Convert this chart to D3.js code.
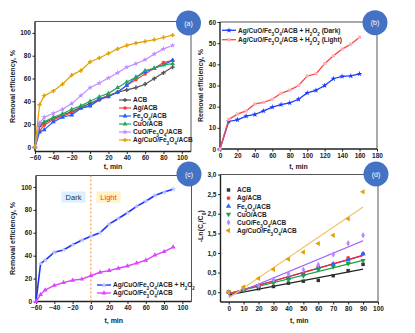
<!DOCTYPE html>
<html>
<head>
<meta charset="utf-8">
<script src="https://cdn.jsdelivr.net/npm/d3@7"></script>
<style>
  body { margin: 0; background: #fff; }
  svg { font-family: "Liberation Sans", Arial, sans-serif; font-weight: bold; }
</style>
</head>
<body>
<svg id="chart"></svg>
<script>
const width = 415;
const height = 333;

// ---- data (a) ----
const tA = [-60, -55, -50, -40, -30, -20, -10, 0, 10, 20, 30, 40, 50, 60, 70, 80, 90];
const namesA = ["ACB", "Ag/ACB", "Fe_3O_4/ACB", "CuO/ACB", "CuO/Fe_3O_4/ACB", "Ag/CuO/Fe_3O_4/ACB"];
const acbA = [0, 18, 21, 25, 28, 31, 35, 38, 42, 45, 48, 50, 52, 55, 60, 65, 70];
const agA = [0, 14, 19, 24, 27, 30, 34, 36, 41, 45, 48, 54, 59, 64, 69, 74, 76];
const feA = [0, 13, 15, 22, 26, 28, 34, 36, 42, 44, 48, 54, 61, 66, 69, 72, 76];
const cuoA = [0, 20, 22, 26, 29, 33, 36, 40, 44, 47, 52, 57, 61, 67, 69, 72, 73];
const cufeA = [0, 21, 26, 29.5, 33, 38, 45, 52, 56, 60.5, 65, 70, 73, 76.5, 81.5, 86, 89];
const agcufeA = [0, 37, 45, 49, 55, 63, 67, 74.5, 78, 82, 86, 89, 91, 92.5, 94, 96, 98];

// ---- data (b) ----
const tB = [0, 10, 20, 30, 40, 50, 60, 70, 80, 90, 100, 110, 120, 130, 140, 150, 160];
const namesB = ["Ag/CuO/Fe_3O_4/ACB + H_2O_2 (Dark)", "Ag/CuO/Fe_3O_4/ACB + H_2O_2 (Light)"];
const darkB = [0, 13, 13.8, 15.5, 16.3, 18, 19.8, 21, 21.8, 23.5, 26.5, 27.7, 30, 33.2, 34.3, 34.5, 35.5];
const lightB = [0, 14, 16.5, 18, 21.3, 22, 23.5, 26.3, 27.8, 30, 34.5, 35.5, 40.3, 44, 47.2, 49.5, 52.8];

// ---- data (c) ----
const tC = [-60, -55, -50, -40, -30, -20, -10, 0, 10, 20, 30, 40, 50, 60, 70, 80, 90];
const namesC = ["Ag/CuO/Fe_3O_4/ACB + H_2O_2", "Ag/CuO/Fe_3O_4/ACB"];
const withH2O2C = [0, 33, 36, 43, 45, 49.5, 53.5, 57, 60, 67.5, 72.5, 77.5, 83, 87.5, 92.5, 95.5, 98];
const withoutC = [0, 6, 10, 14, 16.5, 18.5, 19.5, 22.5, 25.5, 27, 29, 31, 33.5, 36, 40.5, 43.5, 47.5];

// ---- data (d) ----
const tD = [0, 10, 20, 30, 40, 50, 60, 70, 80, 90];
const acbD = [0, 0.05, 0.09, 0.145, 0.23, 0.28, 0.3, 0.42, 0.55, 0.71];
const agD = [0, 0.05, 0.15, 0.28, 0.37, 0.47, 0.65, 0.72, 0.87, 0.98];
const feD = [0, 0.06, 0.15, 0.27, 0.35, 0.45, 0.63, 0.72, 0.82, 0.98];
const cuoD = [0, 0.05, 0.15, 0.24, 0.32, 0.42, 0.57, 0.65, 0.73, 0.81];
const cufeD = [0, 0.1, 0.17, 0.32, 0.47, 0.57, 0.7, 0.96, 1.25, 1.45];
const agcufeD = [0, 0.13, 0.35, 0.58, 0.84, 1.02, 1.24, 1.45, 1.87, 2.56];
// fitted line values at t = 0 and t = 90
const fitStartD = [-0.07, -0.04, -0.04, -0.04, -0.11, -0.15];
const fitEndD = [0.59, 0.94, 0.94, 0.81, 1.31, 2.17];

const svg = d3.select('#chart')
  .attr('width', width)
  .attr('height', height);

// text with _x subscripts
function richText(sel, str, size) {
  sel.text(null);
  const parts = str.split(/(_[0-9a-z])/);
  parts.forEach(p => {
    if (!p) return;
    if (p[0] === '_') {
      sel.append('tspan').attr('baseline-shift', 'sub').attr('font-size', size * 0.7).text(p.slice(1));
    } else {
      sel.append('tspan').text(p);
    }
  });
}

function panel(o) {
  const x = d3.scaleLinear().domain(o.xd).range([o.l, o.r]);
  const y = d3.scaleLinear().domain(o.yd).range([o.b, o.t]);
  const g = svg.append('g');
  // frame top/right
  g.append('path')
    .attr('d', `M${o.l},${o.t}H${o.r}V${o.b}`)
    .attr('fill', 'none').attr('stroke', '#555').attr('stroke-width', 1);
  const ax = g.append('g').attr('transform', `translate(0,${o.b})`)
    .call(d3.axisBottom(x).tickValues(o.xt).tickSize(2.5).tickPadding(1.5).tickSizeOuter(0).tickFormat(o.xf || d3.format('d')));
  const ay = g.append('g').attr('transform', `translate(${o.l},0)`)
    .call(d3.axisLeft(y).tickValues(o.yt).tickSize(2.5).tickPadding(1.5).tickSizeOuter(0).tickFormat(o.yf || d3.format('d')));
  [ax, ay].forEach(a => {
    a.select('.domain').attr('stroke', '#222').attr('stroke-width', 1.4);
    a.selectAll('.tick line').attr('stroke', '#222').attr('stroke-width', 1);
    a.selectAll('text').attr('font-size', 6.5).attr('font-family', '"Liberation Sans", Arial, sans-serif')
      .attr('font-weight', 'bold').attr('fill', '#222');
  });
  ax.select('.domain').attr('d', `M${o.l},0H${o.r}`);
  ay.select('.domain').attr('d', `M0,${o.b}V${o.t}`);
  // axis titles
  g.append('text')
    .attr('x', (o.l + o.r) / 2).attr('y', o.xly)
    .attr('text-anchor', 'middle').attr('font-size', 7).attr('fill', '#222')
    .text('t, min');
  const yl = g.append('text')
    .attr('transform', `translate(${o.ylx},${(o.t + o.b) / 2 + (o.yly || 0)}) rotate(-90)`)
    .attr('text-anchor', 'middle').attr('font-size', 7).attr('fill', '#222');
  richText(yl, o.ylab, 7);
  return { x, y, g };
}

function badge(cx, cy, label) {
  svg.append('circle').attr('cx', cx).attr('cy', cy).attr('r', 12.5).attr('fill', '#4472C4');
  svg.append('text').attr('x', cx).attr('y', cy + 2.5).attr('text-anchor', 'middle')
    .attr('font-size', 7).attr('font-weight', 'normal').attr('fill', '#fff').text(label);
}

function series(p, xs, ys, color, sym, mfill, lw) {
  const line = d3.line().x((d, i) => p.x(xs[i])).y(d => p.y(d));
  p.g.append('path').datum(ys).attr('d', line)
    .attr('fill', 'none').attr('stroke', color).attr('stroke-width', lw || 1.2);
  p.g.selectAll(null).data(ys).join('path')
    .attr('transform', (d, i) => `translate(${p.x(xs[i])},${p.y(d)})`)
    .attr('d', d3.symbol().type(sym).size(10))
    .attr('fill', mfill || color);
}

// ---------- (a) ----------
const pa = panel({ l: 35, r: 191, t: 21.5, b: 151.5, xd: [-60, 110], yd: [-4, 110],
  xt: d3.range(-60, 101, 20), yt: d3.range(0, 101, 20), xly: 168.5, ylx: 15, ylab: 'Removal efficiency, %' });
const colorsA = ['#555555', '#ff3b3b', '#1f5fff', '#20a858', '#c08cff', '#e0a100'];
const symsA = [d3.symbolCross, d3.symbolCircle, d3.symbolTriangle, d3.symbolTriangle, d3.symbolStar, d3.symbolCross];
const valsA = [acbA, agA, feA, cuoA, cufeA, agcufeA];
valsA.forEach((v, i) => series(pa, tA, v, colorsA[i], symsA[i]));
namesA.forEach((n, i) => {
  const yy = 100 + i * 8;
  pa.g.append('line').attr('x1', 119).attr('x2', 131).attr('y1', yy).attr('y2', yy)
    .attr('stroke', colorsA[i]).attr('stroke-width', 1.2);
  pa.g.append('path').attr('transform', `translate(125,${yy})`)
    .attr('d', d3.symbol().type(symsA[i]).size(10)).attr('fill', colorsA[i]);
  const t = pa.g.append('text').attr('x', 133).attr('y', yy + 2.3).attr('font-size', 6.5).attr('fill', '#222');
  richText(t, n, 6.5);
});
badge(188.5, 23, '(a)');

// ---------- (b) ----------
const pb = panel({ l: 220, r: 377, t: 22, b: 149, xd: [0, 180], yd: [0, 60],
  xt: d3.range(0, 181, 20), yt: d3.range(0, 61, 10), xly: 168.5, ylx: 203, ylab: 'Removal efficiency, %' });
series(pb, tB, darkB, '#1a3cff', d3.symbolStar, '#1a3cff', 1.3);
series(pb, tB, lightB, '#ff4444', d3.symbolSquare, '#ffb0b0', 1.3);
[['#1a3cff', d3.symbolStar, '#1a3cff'], ['#ff4444', d3.symbolSquare, '#ffb0b0']].forEach((c, i) => {
  const yy = 30.3 + i * 9.4;
  pb.g.append('line').attr('x1', 222).attr('x2', 236).attr('y1', yy).attr('y2', yy)
    .attr('stroke', c[0]).attr('stroke-width', 1.3);
  pb.g.append('path').attr('transform', `translate(229,${yy})`)
    .attr('d', d3.symbol().type(c[1]).size(10)).attr('fill', c[2]);
  const t = pb.g.append('text').attr('x', 238).attr('y', yy + 2.3).attr('font-size', 6.5).attr('fill', '#222');
  richText(t, namesB[i], 6.5);
});
badge(375, 22.7, '(b)');

// ---------- (c) ----------
const pc = panel({ l: 36, r: 191.5, t: 175.5, b: 301.5, xd: [-60, 110], yd: [0, 110],
  xt: d3.range(-60, 101, 20), yt: d3.range(0, 101, 20), xly: 323, ylx: 15, ylab: 'Removal efficiency, %' });
pc.g.append('line').attr('x1', pc.x(0)).attr('x2', pc.x(0)).attr('y1', 175.5).attr('y2', 301.5)
  .attr('stroke', '#f08a24').attr('stroke-width', 1).attr('stroke-dasharray', '2,2');
pc.g.append('rect').attr('x', 61.5).attr('y', 191.5).attr('width', 24).attr('height', 11).attr('fill', '#dcefff');
pc.g.append('text').attr('x', 73.5).attr('y', 200).attr('text-anchor', 'middle')
  .attr('font-size', 7.5).attr('font-weight', 'normal').attr('fill', '#333').text('Dark');
pc.g.append('rect').attr('x', 96.5).attr('y', 191.5).attr('width', 24).attr('height', 11).attr('fill', '#fff2c4');
pc.g.append('text').attr('x', 108.5).attr('y', 200).attr('text-anchor', 'middle')
  .attr('font-size', 7.5).attr('font-weight', 'normal').attr('fill', '#ff3030').text('Light');
series(pc, tC, withH2O2C, '#2233ff', d3.symbolStar, '#b8c4ff', 1.6);
series(pc, tC, withoutC, '#dd44ff', d3.symbolTriangle, '#dd44ff', 1.4);
[['#2233ff', d3.symbolStar, '#b8c4ff'], ['#dd44ff', d3.symbolTriangle, '#dd44ff']].forEach((c, i) => {
  const yy = 285 + i * 8;
  pc.g.append('line').attr('x1', 97).attr('x2', 111).attr('y1', yy).attr('y2', yy)
    .attr('stroke', c[0]).attr('stroke-width', 1.4);
  pc.g.append('path').attr('transform', `translate(104,${yy})`)
    .attr('d', d3.symbol().type(c[1]).size(10)).attr('fill', c[2]);
  const t = pc.g.append('text').attr('x', 113).attr('y', yy + 2.3).attr('font-size', 6.5).attr('fill', '#222');
  richText(t, namesC[i], 6.5);
});
badge(189, 174, '(c)');

// ---------- (d) ----------
const commaFmt = d => d.toFixed(1).replace('.', ',');
const pd = panel({ l: 220.5, r: 378, t: 174.5, b: 302, xd: [-5.5, 100], yd: [-0.25, 3.0],
  xt: d3.range(0, 101, 10), yt: d3.range(0, 3.01, 0.5), yf: commaFmt,
  xly: 323, ylx: 203, yly: -12, ylab: '-Ln(C_t/C_0)' });
const colorsD = ['#333333', '#ff3535', '#2266ff', '#1fa048', '#bb88ff', '#e3a000'];
const fitColorsD = ['#222222', '#ff2020', '#2266ff', '#15a03a', '#9b55ff', '#f2c46a'];
const symsD = [d3.symbolSquare, d3.symbolCircle, d3.symbolTriangle, d3.symbolTriangle, d3.symbolDiamond, d3.symbolTriangle];
const rotD = [0, 0, 0, 180, 0, -90];
const valsD = [acbD, agD, feD, cuoD, cufeD, agcufeD];
[2, 0, 3, 1, 4, 5].forEach(i => {
  pd.g.append('line')
    .attr('x1', pd.x(0)).attr('y1', pd.y(fitStartD[i]))
    .attr('x2', pd.x(90)).attr('y2', pd.y(fitEndD[i]))
    .attr('stroke', fitColorsD[i]).attr('stroke-width', 1.2);
});
valsD.forEach((v, i) => {
  pd.g.selectAll(null).data(v).join('path')
    .attr('transform', (d, j) => `translate(${pd.x(tD[j])},${pd.y(d)}) rotate(${rotD[i]})`)
    .attr('d', d3.symbol().type(symsD[i]).size(12))
    .attr('fill', colorsD[i]);
});
namesA.forEach((n, i) => {
  const yy = 190 + i * 8.1;
  pd.g.append('path').attr('transform', `translate(228.5,${yy}) rotate(${rotD[i]})`)
    .attr('d', d3.symbol().type(symsD[i]).size(12)).attr('fill', colorsD[i]);
  const t = pd.g.append('text').attr('x', 237).attr('y', yy + 2.3).attr('font-size', 6.5).attr('fill', '#222');
  richText(t, n, 6.5);
});
badge(376, 174, '(d)');
</script>
</body>
</html>
